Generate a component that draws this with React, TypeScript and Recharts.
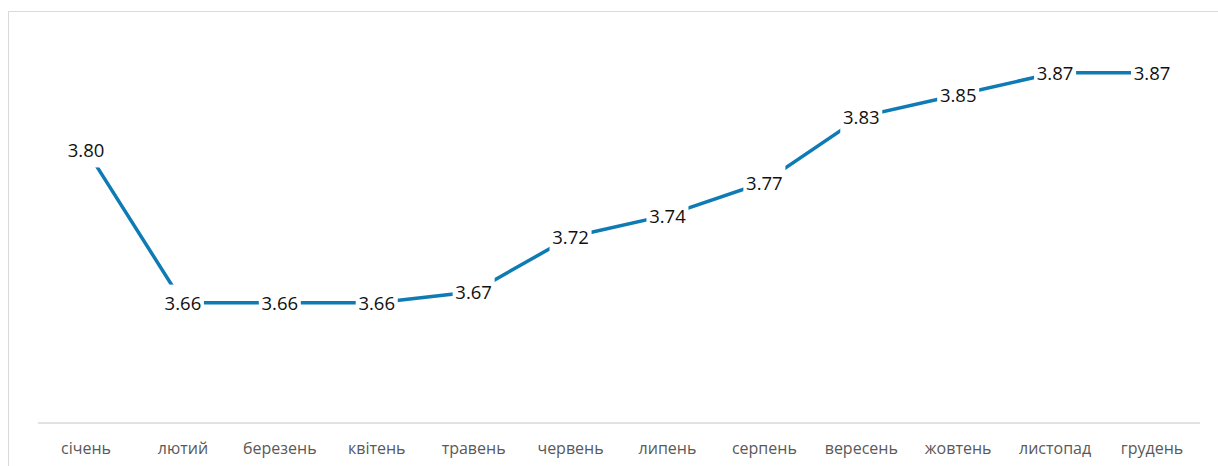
import { LineChart, Line, XAxis, YAxis, LabelList } from 'recharts';

const months = [
  'січень',
  'лютий',
  'березень',
  'квітень',
  'травень',
  'червень',
  'липень',
  'серпень',
  'вересень',
  'жовтень',
  'листопад',
  'грудень',
];

const values = [3.8, 3.66, 3.66, 3.66, 3.67, 3.72, 3.74, 3.77, 3.83, 3.85, 3.87, 3.87];

const data = months.map((m, i) => ({ month: m, value: values[i] }));

const FONT = '"Open Sans", sans-serif';

function PointLabel(props: any) {
  const { x, y, value } = props;
  if (x == null || y == null) return null;
  return (
    <g>
      <rect x={x - 21} y={y - 18} width={42} height={36} fill="#ffffff" />
      <text
        x={x}
        y={y}
        textAnchor="middle"
        dominantBaseline="central"
        fontFamily={FONT}
        fontSize={18.5}
        fill="#111111"
      >
        {Number(value).toFixed(2)}
      </text>
    </g>
  );
}

export default function App() {
  return (
    <div
      style={{
        position: 'absolute',
        left: 8,
        top: 11,
        width: 1210,
        height: 455,
        overflow: 'hidden',
      }}
    >
      <div
        style={{
          border: '1px solid #d9d9d9',
          width: 1240,
          height: 500,
          background: '#fff',
        }}
      >
        <LineChart
          width={1201}
          height={454}
          data={data}
          margin={{ top: 28, right: 10, bottom: 13, left: 29 }}
        >
          <XAxis
            dataKey="month"
            height={30}
            padding={{ left: 48, right: 48 }}
            axisLine={{ stroke: '#d9d9d9', strokeWidth: 1.5 }}
            tickLine={false}
            tickSize={0}
            tickMargin={20}
            interval={0}
            tick={{ fill: '#595959', fontSize: 16, fontFamily: FONT }}
          />
          <YAxis hide domain={[3.55, 3.9]} />
          <Line
            type="linear"
            dataKey="value"
            stroke="#0f7bb5"
            strokeWidth={3.5}
            dot={false}
            isAnimationActive={false}
          >
            <LabelList dataKey="value" content={<PointLabel />} />
          </Line>
        </LineChart>
      </div>
    </div>
  );
}
